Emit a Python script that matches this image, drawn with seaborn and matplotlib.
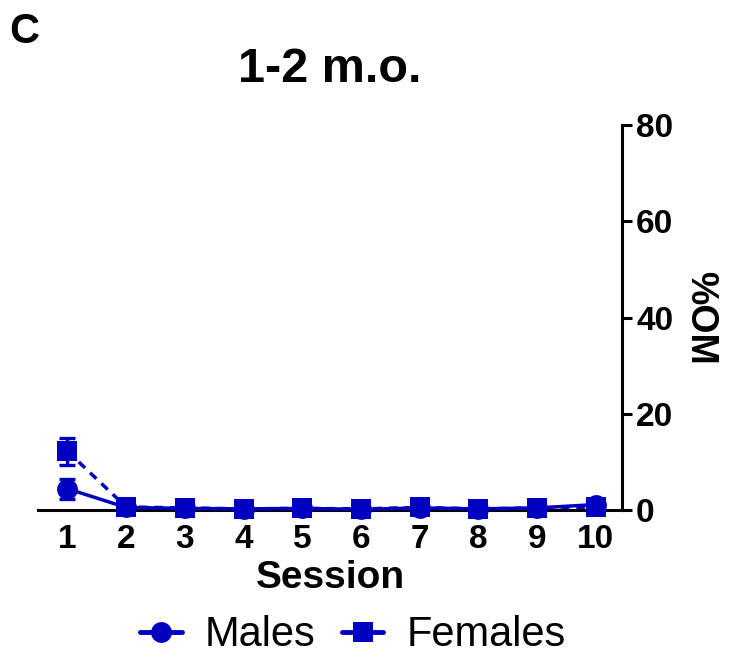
import pandas as pd
import seaborn as sns
import matplotlib.pyplot as plt
from matplotlib.lines import Line2D

# values
sessions = [1, 2, 3, 4, 5, 6, 7, 8, 9, 10]
males = [4.4, 0.5, 0.3, 0.2, 0.3, 0.1, 0.4, 0.2, 0.4, 1.1]
males_sem = [2.1, 0.2, 0.1, 0.1, 0.1, 0.1, 0.2, 0.1, 0.2, 0.4]
females = [12.2, 0.6, 0.4, 0.2, 0.3, 0.2, 0.5, 0.2, 0.4, 0.6]
females_sem = [2.8, 0.3, 0.2, 0.1, 0.1, 0.1, 0.2, 0.1, 0.2, 0.3]
y_ticks = [0, 20, 40, 60, 80]

blue = "#0000c0"

df = pd.concat([
    pd.DataFrame({"Session": sessions, "OM": males, "sem": males_sem, "Group": "Males"}),
    pd.DataFrame({"Session": sessions, "OM": females, "sem": females_sem, "Group": "Females"}),
])

sns.set_style("white")
plt.rcParams["font.family"] = ["Liberation Sans", "DejaVu Sans"]
plt.rcParams["text.color"] = "black"
plt.rcParams["axes.labelcolor"] = "black"

fig = plt.figure(figsize=(7.32, 6.63), dpi=100)
ax = fig.add_axes([0.052, 0.231, 0.798, 0.58])

# error bars first so lines/markers sit on top
for grp in ["Females", "Males"]:
    sub = df[df["Group"] == grp]
    ax.errorbar(sub["Session"], sub["OM"], yerr=sub["sem"], fmt="none",
                ecolor=blue, elinewidth=2.4, capsize=6, capthick=2.4, clip_on=False, zorder=3)

sns.lineplot(data=df, x="Session", y="OM", hue="Group", style="Group",
             palette={"Males": blue, "Females": blue},
             markers={"Males": "o", "Females": "s"},
             dashes={"Males": "", "Females": (2.5, 2.0)},
             markersize=15, markeredgewidth=0, linewidth=2.5,
             clip_on=False, zorder=4, ax=ax, legend=False)

ax.set_xlim(0.5, 10.45)
ax.set_ylim(0, 80)
ax.set_xticks(sessions)
ax.set_yticks(y_ticks)

ax.yaxis.tick_right()
ax.yaxis.set_label_position("right")
for s in ["top", "left"]:
    ax.spines[s].set_visible(False)
for s in ["bottom", "right"]:
    ax.spines[s].set_linewidth(2.2)
    ax.spines[s].set_color("black")
ax.tick_params(axis="both", direction="out", length=7, width=2.2, colors="black",
               labelsize=24, pad=3)
for lab in ax.get_xticklabels() + ax.get_yticklabels():
    lab.set_fontweight("bold")

ax.set_xlabel("Session", fontsize=28, fontweight="bold", labelpad=4)
ax.set_ylabel("%OM", fontsize=27, fontweight="bold", rotation=-90, labelpad=32)

fig.text(0.45, 0.895, "1-2 m.o.", ha="center", va="center", fontsize=35, fontweight="bold")
fig.text(0.013, 0.952, "C", ha="left", va="center", fontsize=30, fontweight="bold")

handles = [
    Line2D([], [], color=blue, marker="o", markersize=15, markeredgewidth=0, linewidth=3.5),
    Line2D([], [], color=blue, marker="s", markersize=15, markeredgewidth=0, linewidth=3.5),
]
fig.legend(handles, ["Males", "Females"], loc="center", bbox_to_anchor=(0.482, 0.042),
           ncol=2, frameon=False, fontsize=30, handlelength=1.0, handletextpad=0.55,
           columnspacing=0.63)

fig.savefig("out.png", dpi=100)
